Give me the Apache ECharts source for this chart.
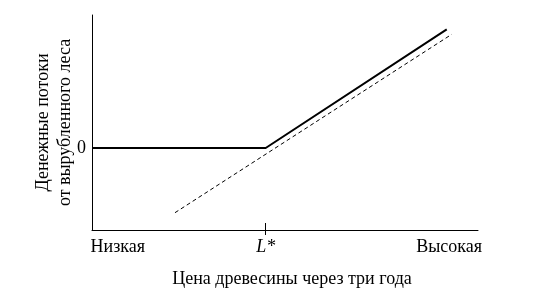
<!DOCTYPE html>
<html><head><meta charset="utf-8">
<script src="https://cdn.jsdelivr.net/npm/echarts@6/dist/echarts.min.js"></script>
<style>html,body{margin:0;padding:0;background:#fff}#c{width:533px;height:298px}</style>
</head><body><div id="c"></div>
<script>
// Price axis (0 = low, 100 = high), L* position
var xLabels = ['Низкая', 'L*', 'Высокая'];
var xLabelPos = [6.7, 45, 92.5];
var lStar = 45;
// Solid: cash flow from harvested forest (option payoff)
var solidX = [0, 45, 91.9];
var solidY = [0, 0, 11.87];
// Dashed: underlying value line
var dashX = [21.5, 93.2];
var dashY = [-6.47, 11.37];
var yTickVals = [0];

var font = 'Liberation Serif';
var chart = echarts.init(document.getElementById('c'));
function pairs(xs, ys){ return xs.map(function(x,i){return [x, ys[i]];}); }
chart.setOption({
  animation: false,
  grid: {left: 92, right: 55, top: 15, bottom: 68, containLabel: false},
  xAxis: [{
    type: 'value', min: 0, max: 100, position: 'bottom',
    name: 'Цена древесины через три года',
    nameLocation: 'middle', nameGap: 40,
    nameTextStyle: {fontFamily: font, fontSize: 18, color: '#000', padding: [0,0,0,14]},
    axisLine: {onZero: false, lineStyle: {color: '#000', width: 1}},
    axisTick: {show: true, customValues: [lStar], length: -7, lineStyle: {color: '#000', width: 1}},
    splitLine: {show: false},
    axisLabel: {
      customValues: xLabelPos, margin: 8,
      fontFamily: font, fontSize: 18, color: '#000',
      formatter: function(v){
        var i = xLabelPos.indexOf(v);
        if (i === 1) return '{i|L*}';
        return i >= 0 ? xLabels[i] : '';
      },
      rich: {i: {fontFamily: font, fontSize: 18, fontStyle: 'italic', color: '#000'}}
    }
  }, {
    type: 'value', min: 0, max: 100, position: 'bottom',
    axisLine: {show: false, onZero: false},
    axisTick: {show: true, customValues: [lStar], length: 5, lineStyle: {color: '#000', width: 1}},
    axisLabel: {show: false},
    splitLine: {show: false}
  }],
  yAxis: {
    type: 'value', min: -8.2, max: 13.3,
    name: 'Денежные потоки\nот вырубленного леса',
    nameLocation: 'middle', nameGap: 16, nameRotate: 90, nameMoveOverlap: false,
    nameTextStyle: {fontFamily: font, fontSize: 18, color: '#000', lineHeight: 22},
    axisLine: {show: true, onZero: false, lineStyle: {color: '#000', width: 1}},
    axisTick: {show: false},
    splitLine: {show: false},
    axisLabel: {customValues: yTickVals, margin: 6, fontFamily: font, fontSize: 18, color: '#000'}
  },
  series: [
    {type: 'line', data: pairs(solidX, solidY), symbol: 'none',
     lineStyle: {color: '#000', width: 2}},
    {type: 'line', data: pairs(dashX, dashY), symbol: 'none',
     lineStyle: {color: '#000', width: 1, type: [4, 3]}}
  ]
});
</script></body></html>
